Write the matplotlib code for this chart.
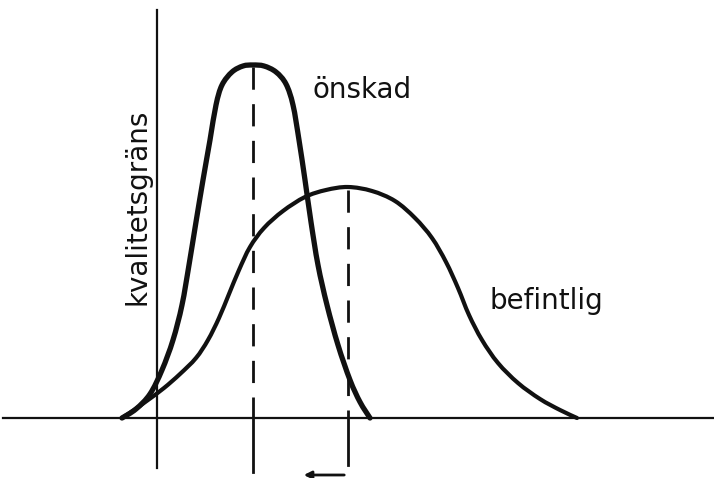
import matplotlib.pyplot as plt
from matplotlib.path import Path
from matplotlib.patches import FancyArrowPatch, PathPatch

# sketch coordinates: x to the right, y downwards (baseline at y=418)
onskad_x = [122, 136, 150, 162, 173, 182, 189, 196, 203, 210, 216, 222, 232, 243, 253,
            264, 276, 286, 293, 299, 305, 311, 318, 327, 338, 350, 360, 370]
onskad_y = [418, 409, 394, 370, 340, 305, 265, 222, 180, 140, 105, 85, 72, 66, 65,
            66, 72, 84, 105, 140, 180, 222, 265, 305, 345, 380, 402, 418]

befintlig_x = [122, 134, 148, 164, 180, 196, 208, 219, 229, 239, 250, 264, 283, 305, 326, 348,
               372, 395, 415, 432, 446, 458, 469, 482, 498, 518, 540, 560, 577]
befintlig_y = [418, 410, 400, 388, 374, 358, 340, 318, 294, 270, 247, 228, 211, 197, 190, 187,
               191, 201, 218, 238, 262, 288, 315, 340, 363, 383, 399, 410, 418]

grans_x = 157
onskad_peak = (253, 65)
befintlig_peak = (348, 188)
baseline_y = 418


def smooth_path(xs, ys):
    # Catmull-Rom through the points, as cubic Bezier segments
    pts = list(zip(xs, ys))
    verts = [pts[0]]
    codes = [Path.MOVETO]
    for i in range(len(pts) - 1):
        p0 = pts[i - 1] if i > 0 else pts[i]
        p1 = pts[i]
        p2 = pts[i + 1]
        p3 = pts[i + 2] if i + 2 < len(pts) else p2
        c1 = (p1[0] + (p2[0] - p0[0]) / 6, p1[1] + (p2[1] - p0[1]) / 6)
        c2 = (p2[0] - (p3[0] - p1[0]) / 6, p2[1] - (p3[1] - p1[1]) / 6)
        verts += [c1, c2, p2]
        codes += [Path.CURVE4] * 3
    return Path(verts, codes)


fig = plt.figure(figsize=(7.14, 4.78), dpi=100)
ax = fig.add_axes([0, 0, 1, 1])
ax.set_xlim(0, 714)
ax.set_ylim(478, 0)
ax.axis('off')

ink = '#111111'

# baseline and quality limit
ax.plot([3, 714], [baseline_y, baseline_y], color=ink, lw=1.6)
ax.plot([grans_x, grans_x], [10, 468], color=ink, lw=1.6)

# the two distributions
ax.add_patch(PathPatch(smooth_path(onskad_x, onskad_y), fill=False, edgecolor=ink, lw=3.8,
                       capstyle='round', joinstyle='round'))
ax.add_patch(PathPatch(smooth_path(befintlig_x, befintlig_y), fill=False, edgecolor=ink, lw=3.0,
                       capstyle='round', joinstyle='round'))

# mean lines: dashed above the baseline, solid ticks below it
for (px, py), bottom in [(onskad_peak, 472), (befintlig_peak, 465)]:
    ax.plot([px, px], [py + 2, baseline_y], color=ink, lw=2.0, dashes=(8, 5.2))
    ax.plot([px, px], [baseline_y, bottom], color=ink, lw=2.0)

# shift arrow
ax.add_patch(FancyArrowPatch((347, 475), (301, 475), arrowstyle='-|>', mutation_scale=11,
                             color=ink, lw=2))

ax.text(312, 98, 'önskad', fontsize=20, color=ink, va='baseline', ha='left')
ax.text(490, 309, 'befintlig', fontsize=20, color=ink, va='baseline', ha='left')
ax.text(137, 207, 'kvalitetsgräns', fontsize=20, color=ink, va='center', ha='center',
        rotation=90)

fig.savefig('out.png', dpi=100)
